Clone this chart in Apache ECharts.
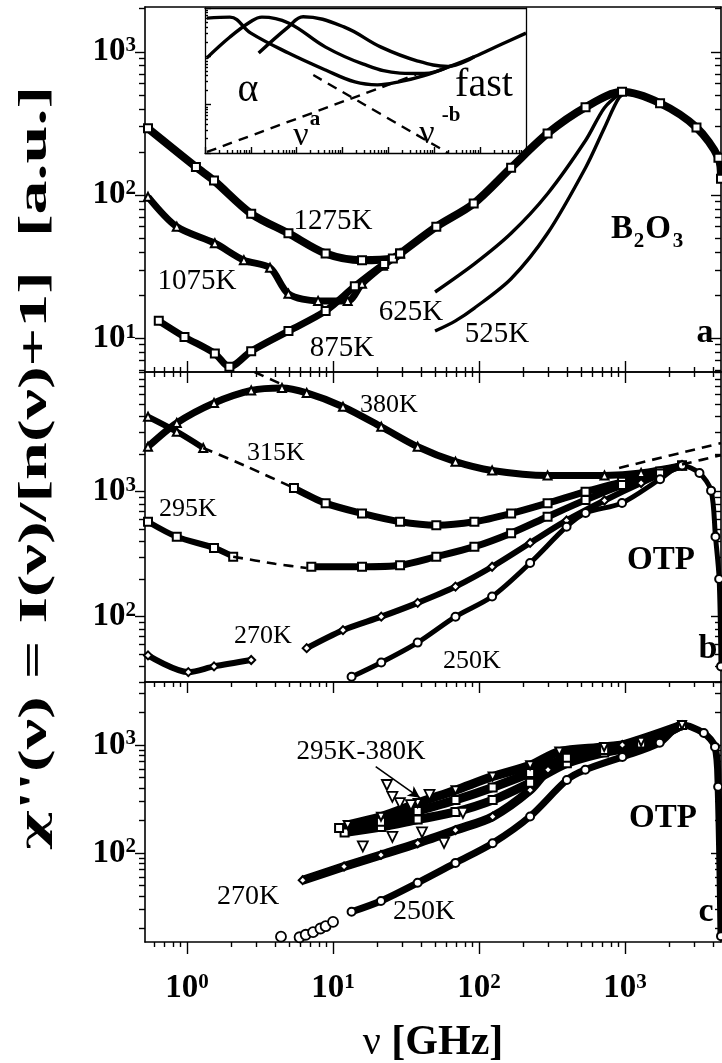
<!DOCTYPE html>
<html>
<head>
<meta charset="UTF-8">
<title>chi'' spectra - B2O3 and OTP</title>
<script src="https://cdn.jsdelivr.net/npm/echarts@6.0.0/dist/echarts.min.js"></script>
<style>
    html, body { margin: 0; padding: 0; background: #fff; }
    #chart { width: 722px; height: 1063px; }
</style>
</head>
<body>
<div id="chart"></div>
<script>
// ---------- data, [nu (GHz), chi''] ----------
// panel a : B2O3
var a1275 = [[0.54,292],[1.15,157],[1.53,126],[2.75,74],[4.95,54],[8.9,39],[15.8,35],[25.7,36],[28.8,39],[51,60],[92,87],[166,155],[295,269],[537,410],[955,525],[1740,437],[3090,296],[4370,182],[4550,130]];
var a1075 = [[0.54,97],[0.85,60],[1.55,46],[2.45,35],[3.7,31],[4.95,20.4],[7.9,18.2],[12.6,18.2],[15.8,24],[22,32],[28.8,39]];
var a875  = [[0.64,13.2],[0.96,10.2],[1.55,7.8],[1.95,6.3],[2.75,8.1],[4.95,11.2],[8.9,15.5],[14.1,23],[22.4,33],[28.8,39]];
var a625  = [[50,21],[93,33],[166,54],[295,102],[537,240],[724,407],[955,525]];
var a525  = [[50,11.2],[69,13.2],[93,16.2],[166,26],[295,54],[537,155],[724,295],[912,479],[1050,525]];

// inset (arbitrary log units)
var insA  = [[1.1,617],[3.5,646],[10,302],[66,117],[427,52],[1860,29.5],[5750,25.7],[17800,30],[60000,40],[200000,60],[741000,98],[3e6,180],[1e7,302]];
var insB  = [[1.1,93],[3.5,251],[10,525],[17.4,646],[66,490],[427,155],[2750,70],[17800,45],[60000,44],[200000,60]];
var insC  = [[14.8,117],[66,407],[138,661],[1070,407],[6920,155],[43600,80],[200000,62],[741000,98]];
var insNuA = [[1.1,1.05],[40000,42]];
var insNuB = [[230,41],[200000,1]];

// panel b : OTP
var b380    = [[0.54,2290],[0.85,3550],[1.53,5130],[2.75,6460],[4.47,6760],[6.6,6170],[11.7,4790],[21.4,3310],[38,2290],[69,1740],[123,1480],[295,1350],[724,1350],[1290,1410],[2460,1620]];
var b315Low = [[0.54,3980],[0.85,3020],[1.29,2240]];
var b315Fit = [[1.29,2240],[2.6,1580],[5.4,1070]];
var b315    = [[5.4,1070],[8.9,810],[15.8,670],[28.8,575],[51,540],[93,575],[166,670],[295,810],[537,1000],[955,1200],[1740,1450],[2460,1620]];
var b295Low = [[0.54,575],[0.85,436],[1.53,355],[2.07,302]];
var b295Fit = [[2.07,302],[4,265],[6.6,245]];
var b295    = [[7.1,251],[15.8,251],[28.8,258],[51,302],[93,363],[166,466],[295,631],[537,860],[955,1130],[1740,1400],[2460,1620]];
var b270Low = [[0.54,49],[1.02,36],[1.53,40],[2.75,45]];
var b270    = [[6.6,56],[11.7,78],[21.4,100],[38,129],[69,174],[123,251],[224,389],[398,589],[724,851],[1290,1175],[2460,1620]];
var b250    = [[13.4,33],[21.4,43],[38,62],[69,100],[123,145],[224,269],[398,525],[537,676],[955,813],[1740,1260],[2460,1620],[3240,1410],[3890,1020],[4170,437],[4420,200],[4550,40]];
var bTopFit = [[2.9,9080],[5.1,6730]];
var bFast1  = [[912,1550],[4550,2450]];
var bFast2  = [[2460,1650],[4550,1960]];

// panel c : OTP, rescaled
var c250Dots = [[4.4,16.8],[5.9,16.6],[6.5,17.5],[7.3,18.5],[8.2,20],[8.9,21],[10,23]];
var c250 = [[13.4,28.6],[21.3,36],[38,53],[69,81],[124,123],[224,218],[400,475],[535,589],[960,776],[1730,1047],[2460,1530],[3470,1290],[4140,960],[4350,410],[4550,17]];
var c270 = [[6.2,56],[11.9,75],[21.3,96],[38,123],[69,163],[124,217],[224,382],[297,589],[400,780],[960,1000],[2460,1530]];
var c295 = [[12,155],[21.3,174],[38,204],[69,240],[124,309],[224,447],[400,676],[720,850],[1290,1000],[2460,1530]];
var c315 = [[11,170],[21.3,195],[38,245],[69,310],[124,405],[224,550],[400,760],[720,900],[1290,1030],[2460,1530]];
var c380 = [[12.6,182],[21.3,217],[38,290],[69,382],[124,510],[224,650],[355,870],[720,960],[1290,1070],[2460,1530]];
var c380Scatter = [[23.4,426],[25.5,331],[28.7,290],[34.2,277],[45.8,346],[16,115],[25.5,141],[40.7,155],[57.6,124],[77.6,235]];
var cArrow = [[19.6,630],[39.4,324]];

// axis ranges / tick labels
var X_RANGE = [0.515, 4550];
var Y_A = [5.8, 2055], Y_B = [30, 9080], Y_C = [15, 3830];
var INS_X = [1, 1e7], INS_Y = [1, 1000];
var X_LABELS = [1, 10, 100, 1000];
var YA_LABELS = [10, 100, 1000], YB_LABELS = [100, 1000], YC_LABELS = [100, 1000];

// ---------- helpers ----------
var FONT = '"Liberation Serif", "DejaVu Serif", serif';

function decades(lo, hi, mults) {
    var out = [];
    for (var d = -1; d < 8; d++) {
        mults.forEach(function (m) {
            var v = +(m * Math.pow(10, d)).toPrecision(3);
            if (v >= lo && v <= hi) out.push(v);
        });
    }
    return out;
}
function majors(r) { return decades(r[0], r[1], [1]); }
function minors(r) { return decades(r[0], r[1], [2, 3, 4, 5, 6, 7, 8, 9]); }

function pow10(v) {
    return '{b|10}{s|' + Math.round(Math.log(v) / Math.LN10) + '}';
}
function richLabel(size) {
    return {
        b: {fontFamily: FONT, fontWeight: 'bold', fontSize: size, color: '#000'},
        s: {fontFamily: FONT, fontWeight: 'bold', fontSize: Math.round(size * 0.64), color: '#000', verticalAlign: 'top'}
    };
}

var xAxes = [], yAxes = [];

// one tick layer of a log axis
function layer(grid, pos, range, ticks, len, inside, showLine, label, lineW) {
    return {
        type: 'log', logBase: 10, gridIndex: grid, position: pos,
        min: range[0], max: range[1],
        axisLine: {show: showLine, onZero: false, lineStyle: {color: '#000', width: lineW || 1.6}},
        axisTick: ticks ? {show: true, inside: inside, length: len, customValues: ticks,
            lineStyle: {color: '#000', width: 1.4}} : {show: false},
        axisLabel: label || {show: false},
        splitLine: {show: false},
        minorTick: {show: false},
        minorSplitLine: {show: false}
    };
}

// major + minor layers, returns index of major layer
function axis(list, grid, pos, range, mode, label, big, small, lineW) {
    var inside = mode === 'in';
    var none = mode === 'none';
    list.push(layer(grid, pos, range, none ? null : majors(range), big, inside, true, label, lineW));
    var idx = list.length - 1;
    if (!none) list.push(layer(grid, pos, range, minors(range), small, inside, false, null, lineW));
    return idx;
}

var grids = [
    {left: 145, top: 7,   width: 576, height: 365},   // a
    {left: 145, top: 372, width: 576, height: 310},   // b
    {left: 145, top: 682, width: 576, height: 260},   // c
    {left: 205, top: 8,   width: 321, height: 145}    // inset
];

function yLabel(vals) {
    return {show: true, customValues: vals, margin: 9, formatter: pow10, rich: richLabel(33)};
}
var xLabel = {show: true, customValues: X_LABELS, margin: 30, formatter: pow10, rich: richLabel(33)};

// panel a
var xa = axis(xAxes, 0, 'bottom', X_RANGE, 'in', null, 11, 5);
axis(xAxes, 0, 'top', X_RANGE, 'none');
var ya = axis(yAxes, 0, 'left', Y_A, 'out', yLabel(YA_LABELS), 10, 6);
axis(yAxes, 0, 'right', Y_A, 'in', null, 10, 6);
// panel b
var xb = axis(xAxes, 1, 'top', X_RANGE, 'in', null, 11, 5);
axis(xAxes, 1, 'bottom', X_RANGE, 'none');
var yb = axis(yAxes, 1, 'left', Y_B, 'out', yLabel(YB_LABELS), 10, 6);
axis(yAxes, 1, 'right', Y_B, 'in', null, 10, 6);
// panel c
var xc = axis(xAxes, 2, 'bottom', X_RANGE, 'out', xLabel, 12, 5);
axis(xAxes, 2, 'top', X_RANGE, 'in', null, 11, 5);
var yc = axis(yAxes, 2, 'left', Y_C, 'out', yLabel(YC_LABELS), 10, 6);
axis(yAxes, 2, 'right', Y_C, 'in', null, 10, 6);
// inset
var xi = axis(xAxes, 3, 'bottom', INS_X, 'in', null, 6, 3, 1.3);
axis(xAxes, 3, 'top', INS_X, 'none', null, 0, 0, 1.3);
var yi = axis(yAxes, 3, 'left', INS_Y, 'in', null, 6, 3, 1.3);
axis(yAxes, 3, 'right', INS_Y, 'none', null, 0, 0, 1.3);

var AX = [[xa, ya], [xb, yb], [xc, yc], [xi, yi]];

function band(data, g, sym, width, extra) {
    var s = {
        type: 'line', data: data,
        xAxisIndex: AX[g][0], yAxisIndex: AX[g][1],
        smooth: 0.3, symbol: sym || 'none', showSymbol: !!sym, symbolSize: 8,
        lineStyle: {color: '#000', width: width},
        itemStyle: {color: '#000', borderWidth: 1.3, opacity: 1},
        emphasis: {disabled: true}, silent: true, z: 3
    };
    return Object.assign(s, extra || {});
}
function dashed(data, g, width) {
    return band(data, g, null, width || 2.6, {smooth: 0.2, lineStyle: {color: '#000', width: width || 2.6, type: [10, 7]}, z: 4});
}
// open markers drawn as white shapes with a black edge
function dots(data, g, sym, rot) {
    return {
        type: 'scatter', data: data, xAxisIndex: AX[g][0], yAxisIndex: AX[g][1],
        symbol: sym, symbolSize: 10, symbolRotate: rot || 0,
        itemStyle: {color: '#fff', borderColor: '#000', borderWidth: 1.8, opacity: 1},
        emphasis: {disabled: true}, silent: true, z: 5
    };
}

var series = [
    // a
    band(a1275, 0, 'emptyRect', 8),
    band(a1075, 0, 'emptyTriangle', 7),
    band(a875, 0, 'emptyRect', 7),
    band(a625, 0, null, 3.4),
    band(a525, 0, null, 3.4),
    // inset
    band(insA, 3, null, 3.4, {smooth: 0.4}),
    band(insB, 3, null, 3.4, {smooth: 0.4}),
    band(insC, 3, null, 3.4, {smooth: 0.4}),
    dashed(insNuA, 3, 2.4),
    dashed(insNuB, 3, 2.4),
    // b
    band(b380, 1, 'emptyTriangle', 7),
    band(b315Low, 1, 'emptyTriangle', 6),
    dashed(b315Fit, 1),
    band(b315, 1, 'emptyRect', 7),
    band(b295Low, 1, 'emptyRect', 6),
    dashed(b295Fit, 1),
    band(b295, 1, 'emptyRect', 7),
    band(b270Low, 1, 'emptyDiamond', 6),
    band(b270, 1, 'emptyDiamond', 6),
    band(b250, 1, 'emptyCircle', 5),
    dashed(bTopFit, 1),
    dashed(bFast1, 1),
    dashed(bFast2, 1),
    // c
    dots(c250Dots, 2, 'circle'),
    band(c250, 2, 'emptyCircle', 7),
    band(c270, 2, 'emptyDiamond', 9),
    band(c295, 2, 'emptyRect', 9),
    band(c315, 2, 'emptyRect', 9),
    band(c380, 2, 'emptyTriangle', 9, {
        symbolRotate: 180,
        markLine: {
            silent: true, symbol: ['none', 'arrow'], symbolSize: [9, 12],
            label: {show: false},
            lineStyle: {color: '#000', width: 1.6, type: 'solid'},
            data: [[{coord: cArrow[0]}, {coord: cArrow[1]}]]
        }
    }),
    dots(c380Scatter, 2, 'triangle', 180)
];

// ---------- text ----------
function txt(x, y, text, size, bold, extra) {
    return Object.assign({
        type: 'text', x: x, y: y, z: 100, silent: true,
        style: {
            text: text, fill: '#000', fontFamily: FONT, fontSize: size,
            fontWeight: bold ? 'bold' : 'normal',
            textAlign: 'center', textVerticalAlign: 'middle'
        }
    }, extra || {});
}

var yTitle = txt(36, 468, "{g|χ}{t|''(ν) = I(ν)/[n(ν)+1]  [a.u.]}", 40, true, {rotation: Math.PI / 2, scaleX: 1.7});
yTitle.style.rich = {
    g: {fontFamily: '"DejaVu Serif", serif', fontWeight: 'bold', fontSize: 36, fill: '#000'},
    t: {fontFamily: FONT, fontWeight: 'bold', fontSize: 40, fill: '#000'}
};
var xTitle = txt(433, 1043, '{g|ν} {t|[GHz]}', 42, true);
xTitle.style.rich = {
    g: {fontFamily: FONT, fontWeight: 'normal', fontSize: 40, fill: '#000'},
    t: {fontFamily: FONT, fontWeight: 'bold', fontSize: 42, fill: '#000'}
};

var graphics = [
    // panel a
    txt(333, 221, '1275K', 29), txt(197, 281, '1075K', 29), txt(342, 348, '875K', 29),
    txt(411, 312, '625K', 29), txt(497, 334, '525K', 29),
    txt(622, 229, 'B', 33, true), txt(639, 242, '2', 21, true),
    txt(658, 229, 'O', 33, true), txt(678, 242, '3', 21, true),
    txt(705, 333, 'a', 34, true),
    // inset
    txt(248, 90, 'α', 40), txt(484, 85, 'fast', 40),
    txt(301, 136, 'ν', 34), txt(315, 120, 'a', 21, true),
    txt(427, 134, 'ν', 34), txt(451, 116, '-b', 21, true),
    // panel b
    txt(389, 405, '380K', 26), txt(276, 453, '315K', 26), txt(188, 509, '295K', 26),
    txt(263, 636, '270K', 26), txt(472, 661, '250K', 26),
    txt(661, 560, 'OTP', 33, true), txt(708, 649, 'b', 34, true),
    // panel c
    txt(361, 752, '295K-380K', 27), txt(248, 897, '270K', 28), txt(424, 912, '250K', 28),
    txt(663, 818, 'OTP', 33, true), txt(706, 912, 'c', 34, true),
    // axis titles
    xTitle,
    yTitle
];

var chart = echarts.init(document.getElementById('chart'), null, {renderer: 'canvas'});
chart.setOption({
    animation: false,
    backgroundColor: '#fff',
    grid: grids,
    xAxis: xAxes,
    yAxis: yAxes,
    series: series,
    graphic: graphics
});
</script>
</body>
</html>
